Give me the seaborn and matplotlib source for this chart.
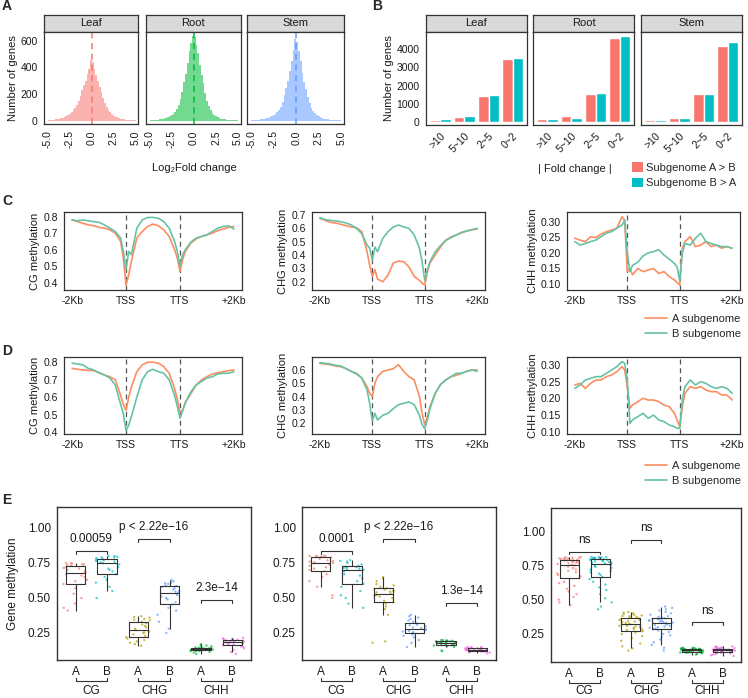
import numpy as np
import pandas as pd
import matplotlib
matplotlib.use("Agg")
import matplotlib.pyplot as plt
import matplotlib.transforms as mtrans
from matplotlib.lines import Line2D
from matplotlib.patches import Patch
import seaborn as sns

# ------------------------------------------------------------------ data
tissues = ["Leaf", "Root", "Stem"]
hist_edges = np.linspace(-5, 5, 51)
leaf_counts = [4, 5, 6, 8, 10, 12, 15, 18, 23, 30, 36, 44, 52, 62, 78, 95, 120, 150, 185, 230,
               265, 300, 350, 390, 455, 440, 385, 340, 300, 250, 215, 170, 130, 100, 80, 62, 48,
               38, 30, 24, 18, 14, 11, 9, 7, 6, 5, 4, 3, 3]
root_counts = [3, 4, 5, 6, 8, 10, 12, 15, 18, 22, 27, 33, 40, 52, 68, 90, 120, 160, 215, 290,
               350, 430, 520, 580, 635, 630, 570, 505, 420, 340, 280, 210, 150, 110, 80, 60, 45,
               34, 25, 19, 15, 12, 9, 7, 6, 5, 4, 3, 3, 2]
stem_counts = [3, 4, 5, 6, 7, 9, 11, 14, 17, 21, 26, 32, 40, 50, 62, 80, 105, 140, 190, 245,
               300, 370, 450, 530, 610, 590, 520, 445, 360, 290, 240, 180, 130, 98, 72, 56, 43,
               33, 26, 20, 16, 13, 10, 8, 6, 5, 4, 4, 3, 3]

fold_cats = [">10", "5~10", "2~5", "0~2"]
fold_dirs = ["Subgenome A > B", "Subgenome B > A"]
leaf_AgtB = [146, 274, 1424, 3451]
leaf_BgtA = [183, 347, 1479, 3524]
root_AgtB = [164, 347, 1534, 4565]
root_BgtA = [164, 237, 1570, 4675]
stem_AgtB = [146, 256, 1516, 4127]
stem_BgtA = [128, 256, 1516, 4382]

profile_pos = [0, 10, 20, 30, 40, 50, 60, 70, 80, 90, 95, 100, 105, 110, 120, 130, 140, 150,
               160, 170, 180, 190, 195, 200, 205, 210, 220, 230, 240, 250, 260, 270, 280, 290, 300]
region_ticks = [0, 100, 200, 300]
region_labels = ["-2Kb", "TSS", "TTS", "+2Kb"]

C_CG_A = [.78, .77, .76, .75, .745, .735, .73, .72, .70, .65, .55, .385, .45, .53, .67, .71, .74, .755,
          .745, .72, .68, .60, .55, .47, .54, .59, .64, .665, .68, .69, .70, .715, .725, .735, .74]
C_CG_B = [.78, .775, .78, .775, .77, .765, .75, .73, .71, .67, .59, .48, .59, .57, .73, .78, .795, .795,
          .79, .77, .73, .65, .59, .50, .57, .60, .645, .67, .68, .69, .71, .73, .74, .745, .725]
C_CHG_A = [.675, .66, .645, .64, .63, .62, .61, .605, .575, .425, .325, .24, .29, .22, .20, .25, .34, .355,
           .35, .31, .24, .21, .19, .175, .27, .34, .40, .46, .51, .535, .55, .565, .58, .59, .595]
C_CHG_B = [.68, .665, .66, .655, .65, .64, .625, .60, .56, .475, .45, .36, .46, .425, .525, .575, .61, .625,
           .61, .60, .55, .45, .35, .21, .29, .35, .425, .47, .51, .53, .55, .57, .58, .59, .60]
C_CHH_A = [.247, .241, .236, .252, .249, .26, .268, .273, .279, .316, .305, .14, .15, .13, .15, .14, .145, .15,
           .134, .14, .124, .113, .105, .097, .215, .236, .252, .22, .225, .236, .22, .225, .215, .22, .215]
C_CHH_B = [.236, .225, .23, .236, .241, .252, .263, .268, .279, .289, .305, .20, .14, .16, .17, .19, .20, .204,
           .21, .193, .18, .166, .155, .11, .20, .23, .225, .247, .263, .236, .23, .225, .22, .22, .215]

D_CG_A = [.765, .76, .756, .754, .752, .74, .727, .717, .70, .61, .56, .525, .60, .66, .746, .785, .80, .80,
          .795, .775, .737, .65, .59, .515, .525, .57, .62, .67, .70, .717, .733, .74, .746, .752, .756]
D_CG_B = [.795, .79, .785, .765, .756, .74, .727, .71, .67, .56, .505, .41, .44, .49, .60, .70, .746, .76,
          .746, .737, .70, .61, .55, .48, .525, .57, .63, .67, .69, .71, .717, .733, .737, .737, .746]
D_CHG_A = [.65, .645, .64, .63, .625, .61, .59, .575, .54, .475, .425, .40, .50, .55, .59, .60, .61, .64,
           .59, .55, .525, .40, .275, .19, .25, .325, .425, .49, .525, .55, .56, .575, .59, .60, .60]
D_CHG_B = [.655, .65, .645, .635, .63, .61, .59, .57, .54, .45, .35, .22, .275, .225, .26, .275, .31, .34,
           .35, .36, .34, .26, .19, .16, .225, .31, .425, .49, .525, .55, .575, .575, .59, .60, .59]
D_CHH_A = [.24, .245, .23, .245, .255, .255, .265, .27, .28, .295, .285, .235, .17, .18, .19, .20, .195, .195,
           .19, .18, .175, .155, .135, .115, .175, .215, .235, .23, .235, .225, .22, .22, .21, .21, .195]
D_CHH_B = [.23, .24, .255, .26, .265, .265, .275, .285, .295, .31, .305, .255, .125, .135, .145, .155, .14, .15,
           .135, .13, .12, .115, .11, .11, .195, .235, .255, .24, .25, .245, .235, .23, .235, .23, .215]

e_groups = ["CG_A", "CG_B", "CHG_A", "CHG_B", "CHH_A", "CHH_B"]
e_tick_labels = ["A", "B", "A", "B", "A", "B"]
e_contexts = ["CG", "CHG", "CHH"]

# panel E, left
e1_CG_A = [.41, .43, .46, .50, .53, .57, .60, .62, .63, .65, .66, .67, .68, .69, .70, .71, .715, .72, .73,
           .735, .74, .74, .745, .75, .75]
e1_CG_B = [.50, .55, .58, .61, .63, .65, .67, .69, .70, .71, .72, .74, .75, .755, .76, .765, .77, .775, .78,
           .785, .79, .79, .795, .80, .80]
e1_CHG_A = [.16, .17, .18, .19, .20, .21, .22, .23, .24, .25, .255, .26, .27, .28, .29, .30, .31, .32, .33,
            .34, .345, .35, .36, .365, .37]
e1_CHG_B = [.25, .28, .33, .38, .41, .43, .455, .47, .49, .50, .51, .52, .535, .545, .55, .56, .57, .58, .585,
            .59, .60, .605, .61, .62, .63]
e1_CHH_A = [.10, .11, .115, .12, .12, .122, .125, .127, .129, .13, .132, .134, .135, .137, .138, .14, .141,
            .143, .145, .148, .15, .155, .16, .165, .17]
e1_CHH_B = [.10, .115, .13, .14, .15, .155, .164, .168, .172, .175, .178, .18, .185, .187, .19, .192, .195,
            .197, .20, .202, .205, .207, .21, .21, .215]
# panel E, middle
e2_CG_A = [.50, .52, .58, .62, .65, .67, .69, .70, .71, .72, .73, .74, .75, .755, .76, .765, .77, .78, .79,
           .79, .795, .80, .80, .80, .80]
e2_CG_B = [.43, .46, .50, .52, .55, .58, .60, .62, .64, .66, .67, .69, .70, .705, .71, .715, .72, .72, .725,
           .73, .74, .75, .76, .765, .77]
e2_CHG_A = [.18, .19, .38, .42, .44, .46, .47, .48, .50, .51, .515, .52, .53, .54, .545, .55, .56, .565, .57,
            .58, .59, .60, .62, .64, .65]
e2_CHG_B = [.15, .18, .20, .22, .23, .24, .25, .255, .26, .265, .27, .275, .28, .285, .29, .30, .305, .31,
            .32, .33, .34, .35, .36, .37, .38]
e2_CHH_A = [.12, .125, .15, .155, .16, .162, .165, .168, .17, .172, .175, .178, .18, .182, .184, .185, .186,
            .188, .19, .192, .194, .195, .197, .198, .20]
e2_CHH_B = [.105, .11, .112, .115, .117, .118, .12, .122, .124, .126, .127, .128, .13, .132, .133, .134, .135,
            .137, .14, .141, .143, .145, .147, .15, .15]
# panel E, right
e3_CG_A = [.46, .48, .50, .52, .54, .56, .58, .60, .62, .63, .655, .67, .68, .69, .70, .71, .72, .73, .74, .75,
           .755, .76, .765, .77, .77, .775, .78, .78, .785, .785, .79, .79, .795, .795, .80, .80, .80, .805,
           .805, .81, .81]
e3_CG_B = [.43, .45, .48, .51, .54, .57, .59, .61, .63, .65, .665, .68, .69, .70, .71, .72, .73, .74, .745, .75,
           .76, .765, .77, .77, .775, .78, .78, .785, .79, .79, .795, .795, .80, .80, .80, .805, .805, .81,
           .81, .81, .81]
e3_CHG_A = [.13, .145, .16, .18, .20, .22, .235, .25, .26, .27, .275, .28, .285, .29, .295, .30, .305, .31, .31,
            .315, .32, .325, .33, .335, .34, .345, .35, .35, .355, .36, .364, .37, .375, .38, .38, .385, .39,
            .395, .40, .405, .41]
e3_CHG_B = [.13, .15, .17, .19, .21, .23, .24, .25, .265, .275, .286, .29, .295, .30, .305, .31, .315, .32,
            .325, .33, .333, .336, .34, .343, .346, .35, .353, .356, .36, .362, .364, .37, .375, .38, .39,
            .40, .41, .42, .43, .44, .45]
e3_CHH_A = [.10, .105, .11, .112, .114, .115, .116, .117, .118, .119, .12, .121, .122, .123, .124, .125, .126,
            .127, .128, .129, .13, .131, .132, .133, .134, .135, .136, .137, .138, .139, .14, .141, .142,
            .143, .144, .145, .146, .147, .148, .149, .15]
e3_CHH_B = [.09, .095, .10, .105, .108, .11, .112, .114, .116, .118, .12, .121, .122, .123, .124, .125, .126,
            .127, .128, .129, .13, .131, .132, .133, .134, .135, .136, .137, .138, .139, .14, .142, .144,
            .146, .148, .15, .152, .154, .156, .158, .16]

e_annots_1 = [(0, 1, 0.836, "0.00059"), (2, 3, 0.92, "p < 2.22e\u221216"), (4, 5, 0.486, "2.3e\u221214")]
e_annots_2 = [(0, 1, 0.836, "0.0001"), (2, 3, 0.92, "p < 2.22e\u221216"), (4, 5, 0.462, "1.3e\u221214")]
e_annots_3 = [(0, 1, 0.849, "ns"), (2, 3, 0.934, "ns"), (4, 5, 0.335, "ns")]

# ------------------------------------------------------------------ style
sns.set_theme(style="white")
plt.rcParams['font.family'] = ['Liberation Sans', 'DejaVu Sans']
plt.rcParams['axes.unicode_minus'] = False
np.random.seed(11)

DARK = "#333333"
TXT = "#1A1A1A"
COL_A = "#FC8D62"
COL_B = "#66C2A5"
hist_colors = ["#F8766D", "#00BA38", "#619CFF"]
bar_colors = ["#F8766D", "#00BFC4"]
e_colors = ["#F8766D", "#00BFC4", "#B79F00", "#619CFF", "#00BA38", "#F564E3"]

W, H = 748, 698
fig = plt.figure(figsize=(W / 100, H / 100), dpi=100)


def ax_px(x0, y0, x1, y1):
    return fig.add_axes([x0 / W, 1 - y1 / H, (x1 - x0) / W, (y1 - y0) / H])


def frame(ax, lw=0.9, tsize=7.5):
    for s in ax.spines.values():
        s.set_visible(True)
        s.set_color(DARK)
        s.set_linewidth(lw)
    ax.tick_params(axis="both", direction="out", length=3, width=0.7, color=DARK,
                   labelsize=tsize, labelcolor=TXT, pad=1.5)
    ax.set_facecolor("white")


def strip(x0, x1, text):
    sax = ax_px(x0, 15, x1, 31.7)
    sax.set_facecolor("#D9D9D9")
    sax.set_xticks([])
    sax.set_yticks([])
    for s in sax.spines.values():
        s.set_visible(True)
        s.set_color(DARK)
        s.set_linewidth(0.9)
    sax.text(0.5, 0.5, text, ha="center", va="center", fontsize=8, color=TXT,
             transform=sax.transAxes)


def panel_label(x, y, s):
    fig.text(x / W, 1 - y / H, s, fontsize=10, fontweight="bold", ha="left", va="center")


# ------------------------------------------------------------------ panel A
a_x = [(44, 138.3), (145.7, 240.7), (247, 344)]
hist_centers = (hist_edges[:-1] + hist_edges[1:]) / 2
for i, (t, counts, (x0, x1)) in enumerate(zip(tissues, [leaf_counts, root_counts, stem_counts], a_x)):
    strip(x0, x1, t)
    ax = ax_px(x0, 31.7, x1, 124)
    dfh = pd.DataFrame({"fc": hist_centers, "n": counts})
    sns.histplot(data=dfh, x="fc", weights="n", binwidth=0.2, binrange=(-5, 5), color=hist_colors[i],
                 element="step", fill=True, alpha=0.55, linewidth=0, ax=ax)
    ax.axvline(0, color=hist_colors[i], ls=(0, (4, 3)), lw=1.1)
    ax.set_xlim(-5.45, 5.3)
    ax.set_ylim(-25, 668)
    ax.set_xticks([-5, -2.5, 0, 2.5, 5])
    ax.set_xticklabels(["-5.0", "-2.5", "0.0", "2.5", "5.0"], rotation=90)
    ax.set_yticks([0, 200, 400, 600])
    frame(ax)
    ax.set_xlabel("")
    if i == 0:
        ax.set_ylabel("Number of genes", fontsize=8, color=TXT, labelpad=2)
    else:
        ax.set_ylabel("")
        ax.set_yticklabels([])
fig.text(194 / W, 1 - 168 / H, "Log\u2082Fold change", ha="center", va="center", fontsize=8, color=TXT)

# ------------------------------------------------------------------ panel B
b_x = [(426, 527), (533, 634), (641, 742)]
b_data = [(leaf_AgtB, leaf_BgtA), (root_AgtB, root_BgtA), (stem_AgtB, stem_BgtA)]
for i, (t, (va, vb), (x0, x1)) in enumerate(zip(tissues, b_data, b_x)):
    strip(x0, x1, t)
    ax = ax_px(x0, 31.7, x1, 125)
    dfb = pd.DataFrame({"cat": fold_cats * 2,
                        "dir": [fold_dirs[0]] * 4 + [fold_dirs[1]] * 4,
                        "n": list(va) + list(vb)})
    sns.barplot(data=dfb, x="cat", y="n", hue="dir", order=fold_cats, hue_order=fold_dirs,
                palette=bar_colors, saturation=1, width=0.9, errorbar=None, legend=False, ax=ax)
    ax.set_xlim(-0.6, 3.6)
    ax.set_ylim(-146, 4931)
    ax.set_yticks([0, 1000, 2000, 3000, 4000])
    frame(ax)
    ax.set_xticks(range(4))
    ax.set_xticklabels(fold_cats, rotation=45, ha="right", rotation_mode="anchor")
    ax.set_xlabel("")
    if i == 0:
        ax.set_ylabel("Number of genes", fontsize=8, color=TXT, labelpad=2)
    else:
        ax.set_ylabel("")
        ax.set_yticklabels([])
fig.text(575 / W, 1 - 169 / H, "| Fold change |", ha="center", va="center", fontsize=8, color=TXT)
fig.legend(handles=[Patch(facecolor=c, edgecolor="none") for c in bar_colors], labels=fold_dirs,
           loc="upper left", bbox_to_anchor=(632 / W, 1 - 162.5 / H), frameon=False, fontsize=8,
           handlelength=0.95, handleheight=0.95, handletextpad=0.35, labelspacing=0.42, borderpad=0,
           borderaxespad=0)

# ------------------------------------------------------------------ panels C, D
prof_x = [(64, 242), (312, 485), (567, 740)]
prof_lab = ["CG methylation", "CHG methylation", "CHH methylation"]
rows = [
    (212, 290, [(C_CG_A, C_CG_B), (C_CHG_A, C_CHG_B), (C_CHH_A, C_CHH_B)],
     [(0.356, 0.828), (0.138, 0.7225), (0.081, 0.331)], 314),
    (357, 434, [(D_CG_A, D_CG_B), (D_CHG_A, D_CHG_B), (D_CHH_A, D_CHH_B)],
     [(0.39, 0.83), (0.12, 0.6975), (0.093, 0.324)], 461),
]
yt = [([0.4, 0.5, 0.6, 0.7, 0.8], "{:.1f}"), ([0.2, 0.3, 0.4, 0.5, 0.6, 0.7], "{:.1f}"),
      ([0.10, 0.15, 0.20, 0.25, 0.30], "{:.2f}")]
for r, (y0, y1, series, ylims, leg_y) in enumerate(rows):
    for j, ((x0, x1), (sa, sb), yl) in enumerate(zip(prof_x, series, ylims)):
        ax = ax_px(x0, y0, x1, y1)
        sns.lineplot(x=profile_pos, y=sa, color=COL_A, lw=1.2, ax=ax, legend=False)
        sns.lineplot(x=profile_pos, y=sb, color=COL_B, lw=1.2, ax=ax, legend=False)
        for v in (100, 200):
            ax.axvline(v, color="#555555", ls=(0, (4, 3)), lw=0.9, zorder=0)
        ax.set_xlim(-15, 315)
        ax.set_ylim(*yl)
        ticks, fmt = yt[j]
        if r == 1 and j == 1:
            ticks = [0.2, 0.3, 0.4, 0.5, 0.6]
        ax.set_yticks(ticks)
        ax.set_yticklabels([fmt.format(t) for t in ticks])
        ax.set_xticks(region_ticks)
        ax.set_xticklabels(region_labels)
        frame(ax, tsize=7.5)
        ax.set_ylabel(prof_lab[j], fontsize=8, color=TXT, labelpad=2)
        ax.set_xlabel("")
        if j == 2:
            h = [Line2D([], [], color=COL_A, lw=1.2), Line2D([], [], color=COL_B, lw=1.2)]
            fig.legend(h, ["A subgenome", "B subgenome"], loc="upper left",
                       bbox_to_anchor=(645 / W, 1 - leg_y / H), frameon=False,
                       fontsize=8, handlelength=2.0, handletextpad=0.45, labelspacing=0.45,
                       borderpad=0, borderaxespad=0)

# ------------------------------------------------------------------ panel E
e_sets = [
    ((57, 507, 251, 660), [e1_CG_A, e1_CG_B, e1_CHG_A, e1_CHG_B, e1_CHH_A, e1_CHH_B], (0.057, 1.15),
     e_annots_1, True, 0.4),
    ((302, 507, 496, 660), [e2_CG_A, e2_CG_B, e2_CHG_A, e2_CHG_B, e2_CHH_A, e2_CHH_B], (0.057, 1.15),
     e_annots_2, False, 0.4),
    ((551, 508, 741, 662), [e3_CG_A, e3_CG_B, e3_CHG_A, e3_CHG_B, e3_CHH_A, e3_CHH_B], (0.046, 1.1675),
     e_annots_3, False, 0.4),
]
for (x0, y0, x1, y1), groups, yl, annots, show_y, jit in e_sets:
    ax = ax_px(x0, y0, x1, y1)
    recs = [(g, v) for g, vals in zip(e_groups, groups) for v in vals]
    dfe = pd.DataFrame(recs, columns=["grp", "val"])
    sns.stripplot(data=dfe, x="grp", y="val", order=e_groups, hue="grp", hue_order=e_groups,
                  palette=e_colors, jitter=jit, size=1.7, alpha=0.7, linewidth=0, legend=False,
                  ax=ax, zorder=1)
    sns.boxplot(data=dfe, x="grp", y="val", order=e_groups, width=0.62, fill=False, color=DARK,
                linewidth=0.8, showfliers=False, showcaps=False, ax=ax, zorder=2)
    ax.set_xlim(-0.6, 5.6)
    ax.set_ylim(*yl)
    ax.set_yticks([0.25, 0.50, 0.75, 1.00])
    ax.set_yticklabels(["0.25", "0.50", "0.75", "1.00"])
    ax.set_xticks(range(6))
    ax.set_xticklabels(e_tick_labels)
    frame(ax, lw=1.0, tsize=8.5)
    ax.set_xlabel("")
    ax.set_ylabel("Gene methylation" if show_y else "", fontsize=8.5, color=TXT, labelpad=6)
    for a, b, yb, s in annots:
        ax.plot([a, a, b, b], [yb - 0.02, yb, yb, yb - 0.02], color=DARK, lw=0.8)
        ax.text((a + b) / 2, yb + 0.085, s, ha="center", va="center", fontsize=8.5, color=TXT)
    tr = mtrans.blended_transform_factory(ax.transData, fig.transFigure)
    yline = 1 - (y1 + 20.5) / H
    ytick = 1 - (y1 + 17.5) / H
    ylab = 1 - 690.5 / H
    for k, ctx in enumerate(e_contexts):
        a, b = 2 * k, 2 * k + 1
        ax.add_line(Line2D([a, a, b, b], [ytick, yline, yline, ytick], transform=tr, color=DARK,
                           lw=0.8, clip_on=False))
        ax.text((a + b) / 2, ylab, ctx, transform=tr, ha="center", va="center", fontsize=8.5, color=TXT)

# ------------------------------------------------------------------ panel labels
panel_label(2, 6, "A")
panel_label(372, 6, "B")
panel_label(2, 201, "C")
panel_label(2, 351, "D")
panel_label(2, 500, "E")

fig.savefig("out.png", dpi=100)
